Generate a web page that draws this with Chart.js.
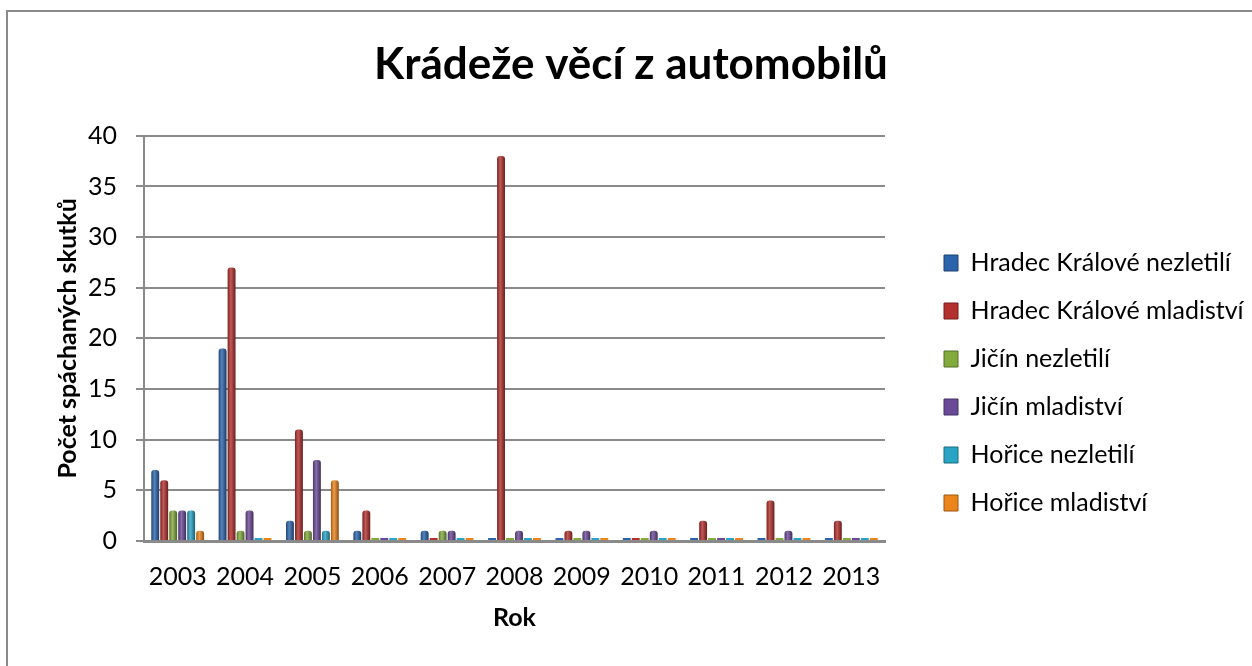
<!DOCTYPE html>
<html><head><meta charset="utf-8">
<script src="https://cdn.jsdelivr.net/npm/chart.js@4.4.0/dist/chart.umd.min.js"></script>
<style>
html,body{margin:0;padding:0;background:#fff;overflow:hidden}
#frame{position:absolute;left:6px;top:10px;width:1300px;height:700px;border-left:2px solid #8a8a8a;border-top:2px solid #8a8a8a}
#wrap{position:absolute;left:0;top:0;width:1252px;height:666px}
</style></head>
<body>
<div id="frame"></div>
<div id="wrap"><canvas id="c" width="1252" height="666"></canvas></div>
<script>
const years = ['2003','2004','2005','2006','2007','2008','2009','2010','2011','2012','2013'];
const hkNezletili      = [7, 19, 2, 1, 1, 0, 0, 0, 0, 0, 0];
const hkMladistvi      = [6, 27, 11, 3, 0, 38, 1, 0, 2, 4, 2];
const jicinNezletili   = [3, 1, 1, 0, 1, 0, 0, 0, 0, 0, 0];
const jicinMladistvi   = [3, 3, 8, 0, 1, 1, 1, 1, 0, 1, 0];
const horiceNezletili  = [3, 0, 1, 0, 0, 0, 0, 0, 0, 0, 0];
const horiceMladistvi  = [1, 0, 6, 0, 0, 0, 0, 0, 0, 0, 0];
const seriesNames = ['Hradec Králové nezletilí','Hradec Králové mladiství','Jičín nezletilí','Jičín mladiství','Hořice nezletilí','Hořice mladiství'];
const yTicks = [0,5,10,15,20,25,30,35,40];
const chartTitle = 'Krádeže věcí z automobilů';
const xTitle = 'Rok';
const yTitle = 'Počet spáchaných skutků';

const BASE = ['#2c64ab','#b2302d','#82aa3c','#6a4a96','#2aa4c4','#ec841c'];
const CAT_PCT = 0.8, BAR_PCT = 0.88;
const FONT = 'Lato, "Open Sans", "DejaVu Sans", sans-serif';

function shade(hex, amt){
  const n = parseInt(hex.slice(1),16);
  let r=(n>>16)&255,g=(n>>8)&255,b=n&255;
  const t = amt<0?0:255, p=Math.abs(amt);
  r=Math.round(r+(t-r)*p); g=Math.round(g+(t-g)*p); b=Math.round(b+(t-b)*p);
  return 'rgb('+r+','+g+','+b+')';
}
function barFill(ctx){
  const ds = ctx.datasetIndex, base = BASE[ds];
  const chart = ctx.chart, xs = chart.scales && chart.scales.x;
  if (ctx.type !== 'data' || !xs || !xs.width || !ctx.raw) return base;
  const cw = xs.width / years.length, gw = cw*CAT_PCT, slot = gw/6, bw = slot*BAR_PCT;
  const cx = xs.getPixelForValue(ctx.dataIndex) - gw/2 + (ds+0.5)*slot;
  const g = chart.ctx.createLinearGradient(cx-bw/2,0,cx+bw/2,0);
  g.addColorStop(0, shade(base,-0.3));
  g.addColorStop(0.4, shade(base,0.2));
  g.addColorStop(1, shade(base,-0.4));
  return g;
}

const seriesData = [hkNezletili,hkMladistvi,jicinNezletili,jicinMladistvi,horiceNezletili,horiceMladistvi];
const datasets = seriesData.map((d,i)=>({
  label: seriesNames[i], data: d,
  backgroundColor: barFill, borderWidth: 0,
  borderRadius: (ctx)=> (ctx.raw ? {topLeft:3, topRight:3, bottomLeft:0, bottomRight:0} : 0),
  borderSkipped: 'bottom', minBarLength: 3,
  categoryPercentage: CAT_PCT, barPercentage: BAR_PCT
}));

const PLOT_RIGHT = 885, LEGEND_BOX_X = 944, LEGEND_PAD = 23, LEGEND_DY = 50;
const layoutFix = {
  id:'layoutFix',
  beforeLayout(chart){
    const lg = chart.legend;
    if (lg && !lg._patched){
      const f = lg.fit.bind(lg);
      lg.fit = function(){ f(); this.width = 1252 - PLOT_RIGHT; };
      lg._patched = true;
    }
  },
  afterLayout(chart){
    const lg = chart.legend;
    if (lg){
      const dx = LEGEND_BOX_X - (lg.left + LEGEND_PAD);
      lg.left += dx; lg.right += dx;
      lg.top += LEGEND_DY; lg.bottom += LEGEND_DY;
    }
  }
};

new Chart(document.getElementById('c'), {
  type:'bar',
  data:{ labels: years, datasets },
  plugins:[layoutFix],
  options:{
    responsive:false, animation:false,
    layout:{ padding:{left:10, top:10, right:0, bottom:10} },
    plugins:{
      tooltip:{enabled:false},
      title:{ display:true, text: chartTitle, color:'#000',
        font:{family:FONT, size:44, weight:'bold', lineHeight:1.2},
        padding:{top:28,bottom:45} },
      legend:{ position:'right', align:'center',
        labels:{ color:'#000', font:{family:FONT, size:25}, boxWidth:14, boxHeight:16, padding:LEGEND_PAD,
          generateLabels(chart){
            const items = Chart.defaults.plugins.legend.labels.generateLabels(chart);
            items.forEach((it,i)=>{ it.fillStyle = BASE[i]; it.strokeStyle = shade(BASE[i],-0.35); it.lineWidth = 1; });
            return items;
          } } }
    },
    scales:{
      x:{
        grid:{display:false, drawTicks:false},
        border:{display:true, color:'#8a8a8a', width:3},
        ticks:{color:'#000', font:{family:FONT, size:25}, padding:21, maxRotation:0},
        title:{display:true, text:xTitle, color:'#000', font:{family:FONT, size:25, weight:'bold', lineHeight:1.2}, padding:{top:0,bottom:23}},
        afterFit(s){ s.height = 666-10-541; }
      },
      y:{
        min:0, max:40,
        afterBuildTicks(s){ s.ticks = yTicks.map(v=>({value:v})); },
        grid:{color:'#8a8a8a', lineWidth:2, tickLength:8, drawTicks:true},
        border:{display:true, color:'#8a8a8a', width:2},
        ticks:{color:'#000', font:{family:FONT, size:25}, padding:19},
        title:{display:true, text:yTitle, color:'#000', font:{family:FONT, size:25, weight:'bold', lineHeight:1.2}, padding:{top:43,bottom:0}},
        afterFit(s){ s.width = 144-10; }
      }
    }
  }
});
</script>
</body></html>
